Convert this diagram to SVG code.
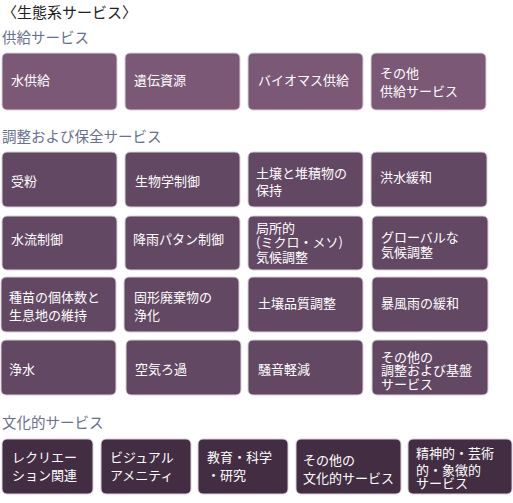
<svg xmlns="http://www.w3.org/2000/svg" width="513" height="503" viewBox="0 0 513 503">
<style>
.h{font-family:"Noto Sans CJK JP","Noto Sans",sans-serif;font-size:14.5px;fill:#68708e}
.t{font-family:"Noto Sans CJK JP","Noto Sans",sans-serif;font-size:15px;fill:#222}
.l{font-family:"Noto Sans CJK JP","Noto Sans",sans-serif;font-size:13px;fill:#fff}
.p rect{fill:#7b5876;stroke:#d9d0d7;stroke-width:1}
.r rect{fill:#634863;stroke:#d9d0d7;stroke-width:1}
.c rect{fill:#432d42;stroke:#d9d0d7;stroke-width:1}
</style>
<rect width="513" height="503" fill="#fff"/>
<text class="t" x="2" y="18">〈生態系サービス〉</text>
<text class="h" x="2" y="43">供給サービス</text>
<text class="h" x="2" y="142">調整および保全サービス</text>
<text class="h" x="2" y="428">文化的サービス</text>

<g class="p">
<g id="n1"><rect x="2" y="53" width="115" height="57" rx="5"/><text class="l" x="11" y="85">水供給</text></g>
<g id="n2"><rect x="125" y="53" width="115" height="57" rx="5"/><text class="l" x="134" y="85">遺伝資源</text></g>
<g id="n3"><rect x="248" y="53" width="115" height="57" rx="5"/><text class="l" x="258" y="85">バイオマス供給</text></g>
<g id="n4"><rect x="371" y="53" width="115" height="57" rx="5"/><text class="l" x="380" y="78">その他</text><text class="l" x="380" y="96">供給サービス</text></g>
</g>

<g class="r">
<g id="n5"><rect x="2" y="152" width="115" height="55" rx="5"/><text class="l" x="11" y="186">受粉</text></g>
<g id="n6"><rect x="125" y="152" width="115" height="55" rx="5"/><text class="l" x="135" y="186">生物学制御</text></g>
<g id="n7"><rect x="248" y="152" width="115" height="55" rx="5"/><text class="l" x="256" y="178">土壌と堆積物の</text><text class="l" x="256" y="195">保持</text></g>
<g id="n8"><rect x="371" y="152" width="116" height="55" rx="5"/><text class="l" x="380" y="182">洪水緩和</text></g>

<g id="n9"><rect x="2" y="216" width="115" height="54" rx="5"/><text class="l" x="11" y="244">水流制御</text></g>
<g id="n10"><rect x="125" y="216" width="115" height="54" rx="5"/><text class="l" x="133" y="244">降雨パタン制御</text></g>
<g id="n11"><rect x="248" y="216" width="115" height="54" rx="5"/><text class="l" x="256" y="233">局所的</text><text class="l" x="256" y="247">(ミクロ・メソ)</text><text class="l" x="256" y="262">気候調整</text></g>
<g id="n12"><rect x="372" y="216" width="116" height="54" rx="5"/><text class="l" x="381" y="242">グローバルな</text><text class="l" x="381" y="257">気候調整</text></g>

<g id="n13"><rect x="1" y="277" width="115" height="55" rx="5"/><text class="l" x="9" y="302">種苗の個体数と</text><text class="l" x="9" y="320">生息地の維持</text></g>
<g id="n14"><rect x="124" y="277" width="115" height="55" rx="5"/><text class="l" x="134" y="302">固形廃棄物の</text><text class="l" x="134" y="320">浄化</text></g>
<g id="n15"><rect x="248" y="277" width="115" height="55" rx="5"/><text class="l" x="258" y="308">土壌品質調整</text></g>
<g id="n16"><rect x="372" y="277" width="116" height="55" rx="5"/><text class="l" x="381" y="308">暴風雨の緩和</text></g>

<g id="n17"><rect x="1" y="340" width="115" height="55" rx="5"/><text class="l" x="9" y="374">浄水</text></g>
<g id="n18"><rect x="126" y="340" width="115" height="55" rx="5"/><text class="l" x="135" y="374">空気ろ過</text></g>
<g id="n19"><rect x="248" y="340" width="115" height="55" rx="5"/><text class="l" x="258" y="374">騒音軽減</text></g>
<g id="n20"><rect x="372" y="340" width="116" height="55" rx="5"/><text class="l" x="381" y="362">その他の</text><text class="l" x="381" y="375">調整および基盤</text><text class="l" x="381" y="389">サービス</text></g>
</g>

<g class="c">
<g id="n21"><rect x="2" y="439" width="91" height="55" rx="5"/><text class="l" x="12" y="462">レクリエー</text><text class="l" x="12" y="480">ション関連</text></g>
<g id="n22"><rect x="101" y="439" width="90" height="55" rx="5"/><text class="l" x="110" y="462">ビジュアル</text><text class="l" x="110" y="480">アメニティ</text></g>
<g id="n23"><rect x="198" y="439" width="90" height="55" rx="5"/><text class="l" x="207" y="462">教育・科学</text><text class="l" x="207" y="480">・研究</text></g>
<g id="n24"><rect x="296" y="439" width="105" height="55" rx="5"/><text class="l" x="303" y="465">その他の</text><text class="l" x="303" y="483">文化的サービス</text></g>
<g id="n25"><rect x="408" y="439" width="104" height="55" rx="5"/><text class="l" x="416" y="458">精神的・芸術</text><text class="l" x="416" y="475">的・象徴的</text><text class="l" x="416" y="488">サービス</text></g>
</g>
<g id="connectors"/>
</svg>
